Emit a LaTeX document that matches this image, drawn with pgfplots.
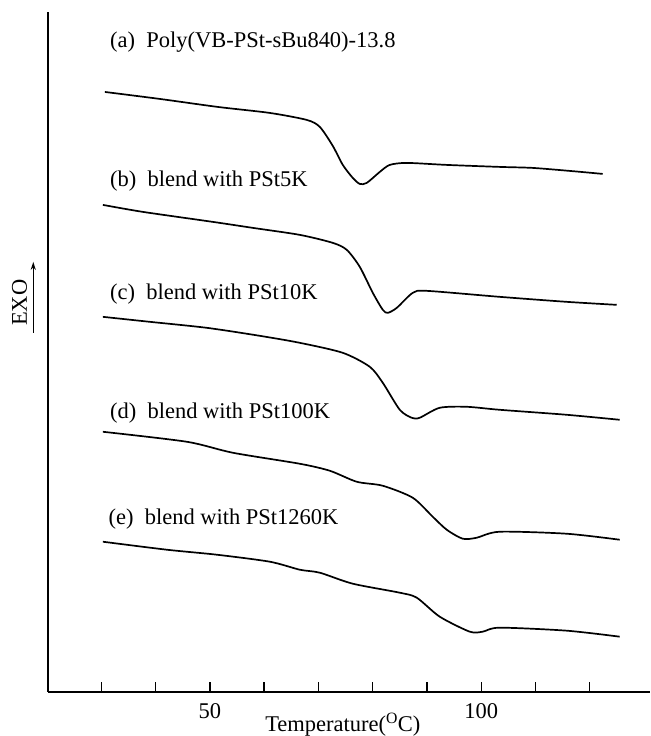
\documentclass[border=0pt]{standalone}
\usepackage{fontspec}
\setmainfont{Liberation Serif}
\usepackage{pgfplots}
\pgfplotsset{compat=1.18}
\usetikzlibrary{arrows.meta}
\pgfplotsset{curve/.style={black, line width=1.7pt, smooth, tension=0.45, mark=none}}
\begin{document}
\begin{tikzpicture}
\begin{axis}[
  scale only axis, width=601.7pt, height=680pt,
  xmin=20.22, xmax=131.03, ymin=-692, ymax=-12,
  axis lines=left, axis line style={-, line width=1.8pt},
  xtick={30,40,...,120}, xticklabels={,,50,,,,,100,,},
  ytick=\empty,
  tick align=inside, major tick length=10pt,
  tick style={line width=1.4pt, black},
  ticklabel style={font=\fontsize{22.5}{26}\selectfont},
  xticklabel style={yshift=-8pt},
  /pgf/number format/assume math mode=true,
  clip=false,
]
\path (axis cs:11.33,0) rectangle (axis cs:131.03,-736);
% (a)
\addplot[curve] coordinates {(30.66,-92) (40.79,-99) (51.47,-107) (61.05,-113) (67.86,-120) (70.26,-127) (72.65,-146) (74.49,-165) (76.33,-178) (77.62,-184) (78.91,-183) (81.31,-172) (83.15,-165) (86.28,-163) (93.65,-165) (103.41,-167) (109.48,-168) (116.30,-171) (122.38,-174)};
% (b)
\addplot[curve] coordinates {(30.29,-205) (37.66,-212) (50.55,-222) (57.92,-228) (66.57,-235) (72.65,-243) (75.23,-250) (77.62,-267) (80.02,-293) (81.86,-310) (82.78,-313) (84.44,-308) (87.38,-293) (89.95,-291) (103.41,-297) (115.75,-302) (124.96,-305)};
% (c)
\addplot[curve] coordinates {(30.29,-317) (38.95,-322) (49.45,-328) (59.21,-336) (66.57,-343) (74.49,-353) (79.47,-367) (81.86,-383) (84.99,-410) (87.20,-418) (88.66,-418) (92.35,-408) (97.32,-407) (103.41,-410) (115.75,-415) (125.51,-420)};
% (d)
\addplot[curve] coordinates {(30.29,-432) (45.76,-442) (54.24,-453) (66.57,-464) (72.10,-471) (77.07,-482) (81.86,-486) (87.38,-498) (91.06,-517) (93.64,-530) (96.59,-539) (99.17,-538) (103.41,-532) (115.75,-534) (125.51,-540)};
% (e)
\addplot[curve] coordinates {(30.29,-542) (42.08,-550) (51.29,-555) (61.05,-562) (66.57,-570) (70.26,-573) (76.33,-584) (84.99,-593) (88.12,-598) (92.35,-617) (97.88,-632) (100.27,-632) (103.41,-628) (115.75,-631) (125.51,-637)};
\begin{scope}[every node/.style={anchor=west, inner sep=0pt, font=\fontsize{22.5}{26}\selectfont}]
\node at (axis cs:31.58,-42) {(a)\ \ Poly(VB-PSt-sBu840)-13.8};
\node at (axis cs:31.58,-181) {(b)\ \ blend with PSt5K};
\node at (axis cs:31.58,-294) {(c)\ \ blend with PSt10K};
\node at (axis cs:31.58,-413) {(d)\ \ blend with PSt100K};
\node at (axis cs:31.30,-519) {(e)\ \ blend with PSt1260K};
\end{scope}
\node[rotate=90, inner sep=0pt, font=\fontsize{22.5}{26}\selectfont] at (axis cs:14.92,-303) {EXO};
\draw[line width=1.3pt, -{Stealth[length=8pt,width=5pt]}] (axis cs:17.46,-333) -- (axis cs:17.46,-262);
\node[inner sep=0pt, font=\fontsize{22.5}{26}\selectfont] at (axis cs:74.5,-725) {Temperature(\textsuperscript{O}C)};
\end{axis}
\end{tikzpicture}
\end{document}
